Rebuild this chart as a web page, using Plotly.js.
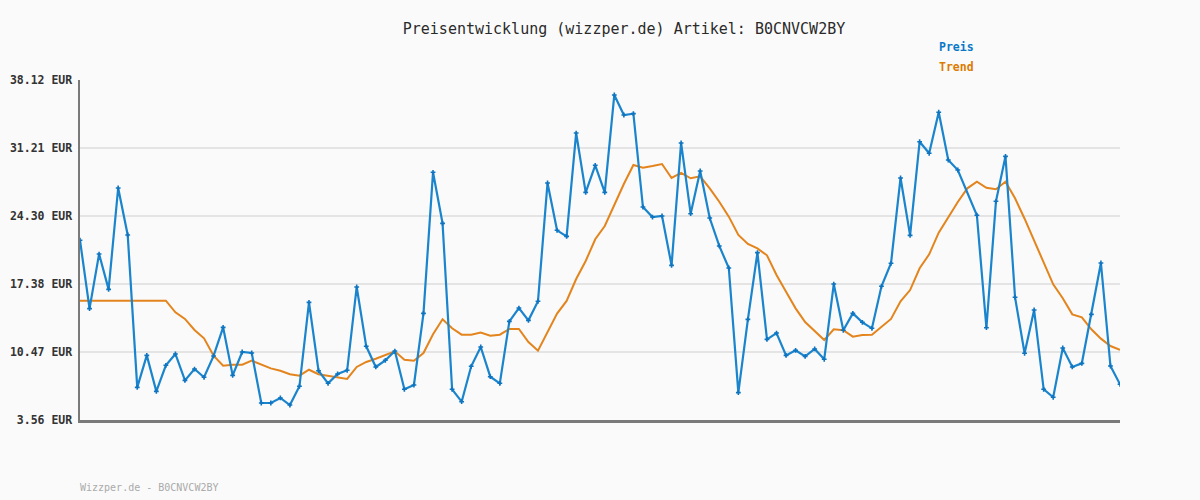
<!DOCTYPE html>
<html>
<head>
<meta charset="utf-8">
<script src="https://cdn.plot.ly/plotly-3.0.1.min.js"></script>
<style>
html,body{margin:0;padding:0;background:#fafafa;}
#chart{width:1200px;height:500px;}
</style>
</head>
<body>
<div id="chart"></div>
<script>
// Price observations (EUR), one per sample index; null = no observation drawn
var preis = [
  21.83, 14.88, 20.43, 16.84, 27.14, 22.37, 6.88, 10.13, 6.47, 9.12,
  10.27, 7.59, 8.74, 7.90, 10.07, 12.98, 8.10, 10.47, 10.37, 5.29,
  5.29, 5.80, 5.08, 6.99, 15.52, 8.57, 7.29, 8.24, 8.61, 17.08,
  11.05, 8.95, 9.63, 10.57, 6.68, 7.12, 14.40, 28.74, 23.55, 6.68,
  5.42, 9.02, 10.98, 7.96, 7.29, 13.59, 14.94, 13.69, 15.63, 27.65,
  22.84, 22.23, 32.73, 26.70, 29.45, 26.70, 36.60, 34.56, 34.70, 25.21,
  24.19, 24.30, 19.28, 31.72, 24.53, 28.87, 24.09, 21.25, 19.01, 6.34,
  13.79, 20.57, 11.76, 12.40, 10.13, 10.64, 10.03, 10.78, 9.73, 17.38,
  12.68, 14.40, 13.49, 12.88, 17.15, 19.49, 28.16, 22.33, 31.85, 30.67,
  34.84, 29.99, 28.97, null, 24.37, 12.94, 25.79, 30.36, 16.03, 10.34,
  14.74, 6.68, 5.87, 10.88, 8.95, 9.32, 14.30, 19.52, 9.05, 7.19
];
var trend = [
  15.69, 15.69, 15.69, 15.69, 15.69, 15.69, 15.69, 15.69, 15.69, 15.69,
  14.51, 13.83, 12.71, 11.86, 10.10, 9.08, 9.18, 9.18, 9.59, 9.18,
  8.81, 8.57, 8.21, 8.07, 8.67, 8.21, 8.03, 7.86, 7.73, 8.95,
  9.46, 9.79, 10.17, 10.54, 9.69, 9.59, 10.37, 12.27, 13.80, 12.88,
  12.23, 12.23, 12.44, 12.13, 12.23, 12.81, 12.81, 11.49, 10.61, 12.54,
  14.37, 15.66, 17.89, 19.72, 21.93, 23.28, 25.45, 27.55, 29.48, 29.21,
  29.38, 29.58, 28.16, 28.67, 28.13, 28.33, 27.11, 25.75, 24.23, 22.37,
  21.45, 21.01, 20.30, 18.30, 16.60, 14.91, 13.52, 12.61, 11.69, 12.78,
  12.68, 12.03, 12.20, 12.23, 13.05, 13.83, 15.63, 16.77, 18.98, 20.40,
  22.60, 24.23, 25.72, 27.11, 27.78, 27.17, 27.01, 27.78, 26.10, 24.02,
  21.83, 19.65, 17.35, 15.93, 14.30, 14.00, 12.78, 11.83, 11.08, 10.68
];
var idx = preis.map(function(_, i){ return i; });
var tickValues = [3.56, 10.47, 17.38, 24.30, 31.21, 38.12];
var tickLabels = ["3.56 EUR", "10.47 EUR", "17.38 EUR", "24.30 EUR", "31.21 EUR", "38.12 EUR"];
var titleText = "Preisentwicklung (wizzper.de) Artikel: B0CNVCW2BY";
var footerText = "Wizzper.de - B0CNVCW2BY";
var seriesNames = ["Preis", "Trend"];

var mono = "'DejaVu Sans Mono', 'Liberation Mono', monospace";
var blue = "#1a84cc";
var orange = "#e3841c";

var traces = [
  {
    x: idx, y: trend, type: "scatter", mode: "lines", name: seriesNames[1],
    line: {color: orange, width: 2}, connectgaps: true, hoverinfo: "skip"
  },
  {
    x: idx, y: preis, type: "scatter", mode: "lines+markers", name: seriesNames[0],
    line: {color: blue, width: 2.2}, connectgaps: true,
    marker: {symbol: "cross", size: 4, color: "#0f74c0"}, hoverinfo: "skip"
  }
];

var layout = {
  width: 1200, height: 500,
  paper_bgcolor: "#fafafa", plot_bgcolor: "#fafafa",
  margin: {l: 80, r: 80, t: 80, b: 80},
  showlegend: false,
  title: {
    text: titleText, x: 0.52, xanchor: "center", y: 0.942, yanchor: "middle",
    font: {family: mono, size: 15, color: "#2a2a2a"}
  },
  xaxis: {
    range: [0, idx.length - 1], showgrid: false, zeroline: false,
    showticklabels: false, ticks: "",
    showline: true, linecolor: "#7a7a7a", linewidth: 2.5
  },
  yaxis: {
    range: [3.56, 38.12], tickmode: "array", tickvals: tickValues, ticktext: tickLabels,
    showgrid: true, gridcolor: "#e4e4e4", gridwidth: 2, zeroline: false,
    showline: true, linecolor: "#7a7a7a", linewidth: 2.5,
    ticks: "", ticklabelstandoff: 3,
    tickfont: {family: mono, size: 11.5, color: "#333", weight: "bold"}
  },
  annotations: [
    {text: "<b>" + seriesNames[0] + "</b>", xref: "paper", yref: "paper", x: (937 - 80) / 1040, y: (420 - 47) / 340,
     xanchor: "left", yanchor: "middle", showarrow: false, font: {family: mono, size: 11.5, color: "#0a78c8"}},
    {text: "<b>" + seriesNames[1] + "</b>", xref: "paper", yref: "paper", x: (937 - 80) / 1040, y: (420 - 67) / 340,
     xanchor: "left", yanchor: "middle", showarrow: false, font: {family: mono, size: 11.5, color: "#dd7a00"}},
    {text: footerText, xref: "paper", yref: "paper", x: -2 / 1040, y: (420 - 487) / 340,
     xanchor: "left", yanchor: "middle", showarrow: false, font: {family: mono, size: 10, color: "#aaaaaa"}}
  ]
};

Plotly.newPlot("chart", traces, layout, {staticPlot: true, displayModeBar: false});
</script>
</body>
</html>
